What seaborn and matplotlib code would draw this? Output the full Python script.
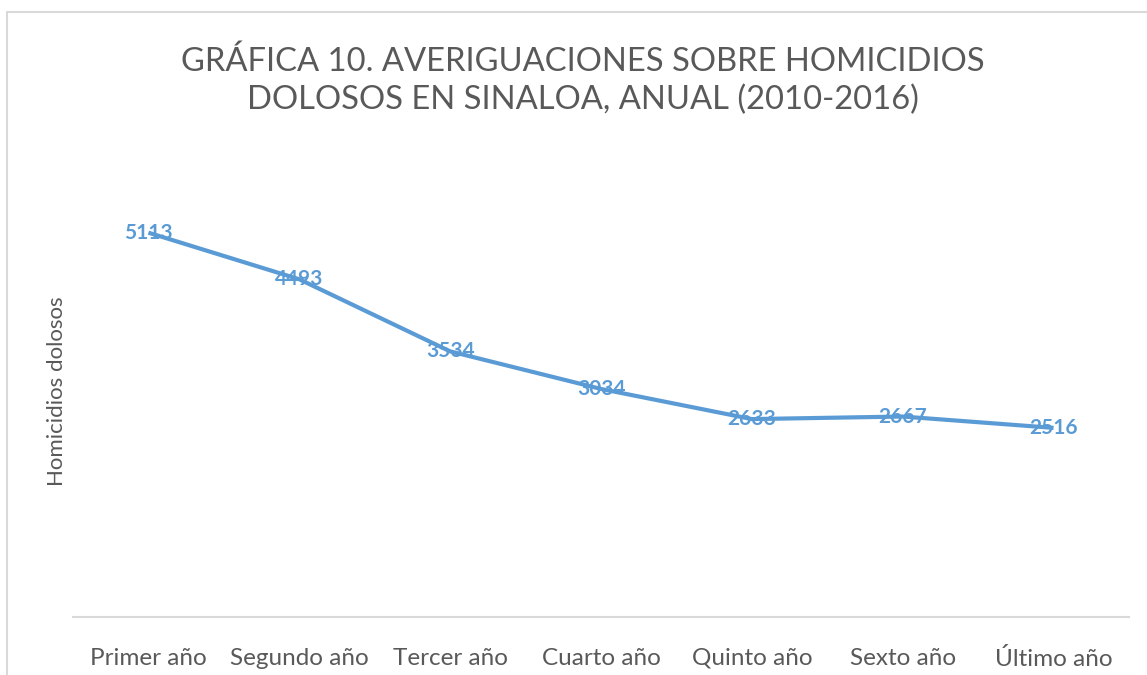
import matplotlib
matplotlib.use("Agg")
import matplotlib.pyplot as plt
import seaborn as sns
import pandas as pd
from matplotlib.patches import Rectangle

categorias = ["Primer año", "Segundo año", "Tercer año", "Cuarto año",
              "Quinto año", "Sexto año", "Último año"]
homicidios = [5113, 4493, 3534, 3034, 2633, 2667, 2516]

titulo = "GRÁFICA 10. AVERIGUACIONES SOBRE HOMICIDIOS\nDOLOSOS EN SINALOA, ANUAL (2010-2016)"
etiqueta_y = "Homicidios dolosos"

sns.set_theme(style="white")
plt.rcParams["font.family"] = ["Lato", "DejaVu Sans"]

gris = "#595959"
azul = "#5B9BD5"

df = pd.DataFrame({"x": range(len(categorias)), "valor": homicidios})

fig = plt.figure(figsize=(11.47, 6.75), dpi=100)
ax = fig.add_axes([73 / 1147, 1 - 617 / 675, (1129 - 73) / 1147, (617 - 166) / 675])

sns.lineplot(data=df, x="x", y="valor", ax=ax, color=azul, linewidth=3.0,
             solid_capstyle="butt", zorder=2)

for i, v in enumerate(homicidios):
    ax.text(i, v, str(v), ha="center", va="center", color=azul,
            fontsize=15, fontweight="bold", zorder=3)

ax.set_xlim(-0.5, len(categorias) - 0.5)
ax.set_ylim(0, 6000)
ax.set_xticks(range(len(categorias)))
ax.set_xticklabels(categorias, fontsize=17.5, color=gris)
ax.tick_params(axis="x", length=0, pad=22)
ax.set_yticks([])
ax.set_xlabel("")
ax.set_ylabel(etiqueta_y, fontsize=16, color=gris, labelpad=4)

for s in ["top", "right", "left"]:
    ax.spines[s].set_visible(False)
ax.spines["bottom"].set_color("#D9D9D9")
ax.spines["bottom"].set_linewidth(1.5)

fig.text(0.508, 1 - 81 / 675, titulo, ha="center", va="center",
         fontsize=23.6, color=gris, linespacing=1.32)

# light frame around the chart area
fig.patches.append(Rectangle((7 / 1147, -0.05), 1.2, 1 - 12 / 675 + 0.05,
                             transform=fig.transFigure, fill=False,
                             edgecolor="#D9D9D9", linewidth=1.5))

fig.savefig("out.png", dpi=100)
